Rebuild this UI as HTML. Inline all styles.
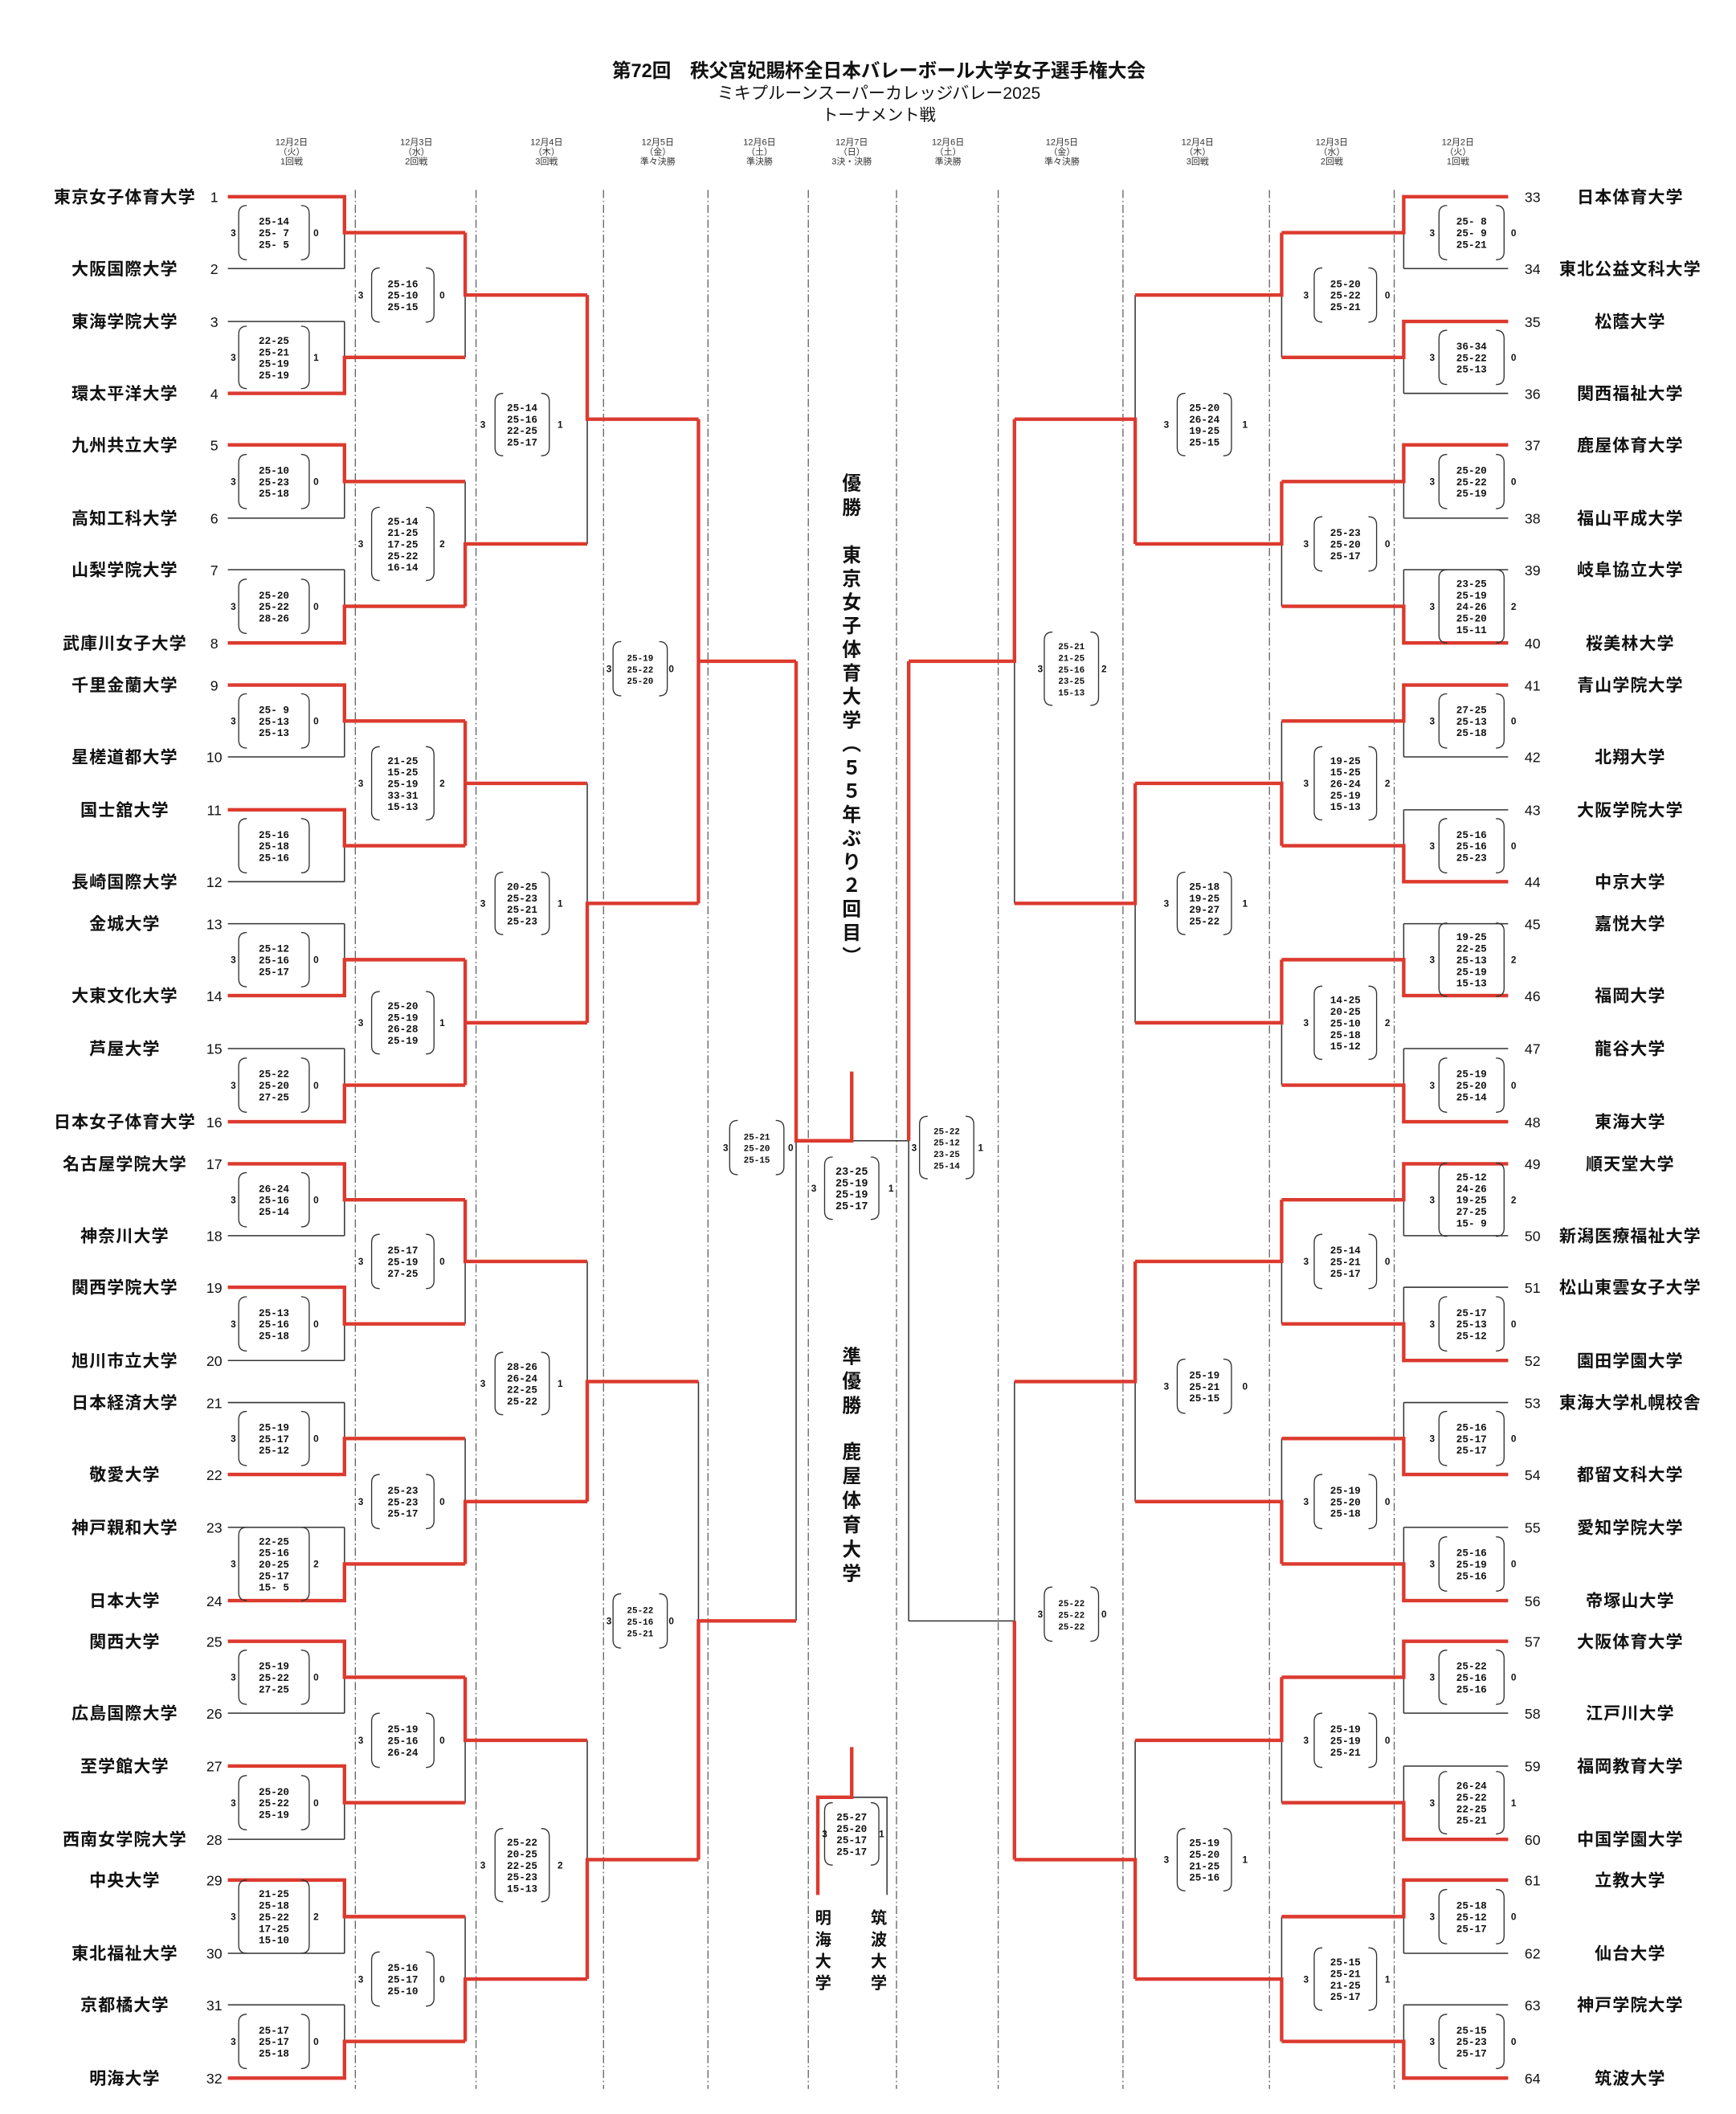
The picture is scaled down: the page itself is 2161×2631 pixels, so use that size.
<!DOCTYPE html>
<html><head><meta charset="utf-8"><style>
html,body{margin:0;padding:0;background:#fff;}
svg{display:block;}
.t{font-family:"Liberation Sans","Noto Sans CJK JP",sans-serif;fill:#111;}
.nm{font-family:"Liberation Sans","Noto Sans CJK JP",sans-serif;font-weight:bold;font-size:12.5px;letter-spacing:0.6px;text-anchor:middle;fill:#111;}
.no{font-family:"Liberation Sans",sans-serif;font-size:10.5px;text-anchor:middle;fill:#111;}
.s{font-family:"Liberation Mono","DejaVu Sans Mono",monospace;font-weight:bold;font-size:7.5px;text-anchor:middle;fill:#111;white-space:pre;}
.n{font-family:"Liberation Sans",sans-serif;font-weight:bold;font-size:7px;text-anchor:middle;fill:#111;}
.h{font-family:"Liberation Sans","Noto Sans CJK JP",sans-serif;font-size:6.5px;text-anchor:middle;fill:#333;}
.v{font-family:"Liberation Sans","Noto Sans CJK JP",sans-serif;font-weight:bold;font-size:14px;text-anchor:middle;fill:#111;}
.v2{font-family:"Liberation Sans","Noto Sans CJK JP",sans-serif;font-weight:bold;font-size:12px;text-anchor:middle;fill:#111;}
.pp{fill:none;stroke:#333;stroke-width:0.8;}
</style></head><body>
<svg width="2161" height="2631" viewBox="0 0 1280 1558.5" preserveAspectRatio="none" xmlns="http://www.w3.org/2000/svg" xmlns:xlink="http://www.w3.org/1999/xlink">
<defs>
<path id="a3" class="pp" d="M-20-20q-6 0-6 6v28q0 6 6 6M20-20q6 0 6 6v28q0 6-6 6"/>
<path id="a4" class="pp" d="M-20-23q-6 0-6 6v34q0 6 6 6M20-23q6 0 6 6v34q0 6-6 6"/>
<path id="a5" class="pp" d="M-20-27q-6 0-6 6v42q0 6 6 6M20-27q6 0 6 6v42q0 6-6 6"/>
<path id="b3" class="pp" d="M-17-20q-6 0-6 6v28q0 6 6 6M17-20q6 0 6 6v28q0 6-6 6"/>
<path id="b4" class="pp" d="M-17-23q-6 0-6 6v34q0 6 6 6M17-23q6 0 6 6v34q0 6-6 6"/>
<path id="b5" class="pp" d="M-17-27q-6 0-6 6v42q0 6 6 6M17-27q6 0 6 6v42q0 6-6 6"/>
<path id="c3" class="pp" d="M-14-20q-6 0-6 6v28q0 6 6 6M14-20q6 0 6 6v28q0 6-6 6"/>
<path id="c4" class="pp" d="M-14-23q-6 0-6 6v34q0 6 6 6M14-23q6 0 6 6v34q0 6-6 6"/>
<path id="c5" class="pp" d="M-14-27q-6 0-6 6v42q0 6 6 6M14-27q6 0 6 6v42q0 6-6 6"/>
<path id="e3" class="pp" d="M-18-20q-6 0-6 6v28q0 6 6 6M18-20q6 0 6 6v28q0 6-6 6"/>
<path id="e4" class="pp" d="M-18-23q-6 0-6 6v34q0 6 6 6M18-23q6 0 6 6v34q0 6-6 6"/>
<path id="e5" class="pp" d="M-18-27q-6 0-6 6v42q0 6 6 6M18-27q6 0 6 6v42q0 6-6 6"/>
</defs>

<!-- Title -->
<text class="t" x="648" y="57" font-size="14" font-weight="bold" text-anchor="middle">第72回　秩父宮妃賜杯全日本バレーボール大学女子選手権大会</text>
<text class="t" x="648" y="73" font-size="12.5" text-anchor="middle">ミキプルーンスーパーカレッジバレー2025</text>
<text class="t" x="648" y="89" font-size="12" text-anchor="middle">トーナメント戦</text>

<!-- Headers -->
<g class="h">
<text x="215" y="107">12月2日</text><text x="215" y="114">（火）</text><text x="215" y="121">1回戦</text>
<text x="307" y="107">12月3日</text><text x="307" y="114">（水）</text><text x="307" y="121">2回戦</text>
<text x="403" y="107">12月4日</text><text x="403" y="114">（木）</text><text x="403" y="121">3回戦</text>
<text x="485" y="107">12月5日</text><text x="485" y="114">（金）</text><text x="485" y="121">準々決勝</text>
<text x="560" y="107">12月6日</text><text x="560" y="114">（土）</text><text x="560" y="121">準決勝</text>
<text x="628" y="107">12月7日</text><text x="628" y="114">（日）</text><text x="628" y="121">3決・決勝</text>
<text x="699" y="107">12月6日</text><text x="699" y="114">（土）</text><text x="699" y="121">準決勝</text>
<text x="783" y="107">12月5日</text><text x="783" y="114">（金）</text><text x="783" y="121">準々決勝</text>
<text x="883" y="107">12月4日</text><text x="883" y="114">（木）</text><text x="883" y="121">3回戦</text>
<text x="982" y="107">12月3日</text><text x="982" y="114">（水）</text><text x="982" y="121">2回戦</text>
<text x="1075" y="107">12月2日</text><text x="1075" y="114">（火）</text><text x="1075" y="121">1回戦</text>
</g>

<!-- dashed column lines -->
<path d="M262 140V1540M351 140V1540M445 140V1540M522 140V1540M596 140V1540M661 140V1540M736 140V1540M828 140V1540M936 140V1540M1028 140V1540" stroke="#666" stroke-width="0.8" stroke-dasharray="6 2 1 2" fill="none"/>

<!-- black base lines -->
<path fill="none" stroke="#333" stroke-width="0.9" d="
M168 145H254M168 198H254M168 237H254M168 290H254M168 328H254M168 382H254M168 420H254M168 474H254
M168 505H254M168 558H254M168 597H254M168 650H254M168 681H254M168 734H254M168 773H254M168 827H254
M168 858H254M168 911H254M168 949H254M168 1003H254M168 1034H254M168 1087H254M168 1126H254M168 1180H254
M168 1210H254M168 1263H254M168 1302H254M168 1356H254M168 1386H254M168 1440H254M168 1478H254M168 1532H254
M254 145V198M254 237V290M254 328V382M254 420V474M254 505V558M254 597V650M254 681V734M254 773V827
M254 858V911M254 949V1003M254 1034V1087M254 1126V1180M254 1210V1263M254 1302V1356M254 1386V1440M254 1478V1532
M343 171.5V263.5M343 355V447M343 531.5V623.5M343 707.5V800M343 884.5V976M343 1060.5V1153M343 1236.5V1329M343 1413V1505
M433 217.5V401M433 577.5V754M433 930V1107M433 1283V1459
M515 309V666M515 1018.5V1371M587 487.5V1195
M1035 145H1112M1035 198H1112M1035 237H1112M1035 290H1112M1035 328H1112M1035 382H1112M1035 420H1112M1035 474H1112
M1035 505H1112M1035 558H1112M1035 597H1112M1035 650H1112M1035 681H1112M1035 734H1112M1035 773H1112M1035 827H1112
M1035 858H1112M1035 911H1112M1035 949H1112M1035 1003H1112M1035 1034H1112M1035 1087H1112M1035 1126H1112M1035 1180H1112
M1035 1210H1112M1035 1263H1112M1035 1302H1112M1035 1356H1112M1035 1386H1112M1035 1440H1112M1035 1478H1112M1035 1532H1112
M1035 145V198M1035 237V290M1035 328V382M1035 420V474M1035 505V558M1035 597V650M1035 681V734M1035 773V827
M1035 858V911M1035 949V1003M1035 1034V1087M1035 1126V1180M1035 1210V1263M1035 1302V1356M1035 1386V1440M1035 1478V1532
M945 171.5V263.5M945 355V447M945 531.5V623.5M945 707.5V800M945 884.5V976M945 1060.5V1153M945 1236.5V1329M945 1413V1505
M837 217.5V401M837 577.5V754M837 930V1107M837 1283V1459
M748 309V666M748 1018.5V1371M670 487.5V1195
M748 1195H670M670 841H628
M628 1325H654V1397
"/>

<!-- red winner lines -->
<path fill="none" stroke="#dc3a2f" stroke-width="2.6" stroke-linejoin="miter" d="
M168 145H254V171.5H343M168 290H254V263.5H343M168 328H254V355H343M168 474H254V447H343
M168 505H254V531.5H343M168 597H254V623.5H343M168 734H254V707.5H343M168 827H254V800H343
M168 858H254V884.5H343M168 949H254V976H343M168 1087H254V1060.5H343M168 1180H254V1153H343
M168 1210H254V1236.5H343M168 1302H254V1329H343M168 1386H254V1413H343M168 1532H254V1505H343
M343 171.5V217.5H433M343 447V401H433M343 531.5V623.5M343 577.5H433M343 707.5V800M343 754H433
M343 884.5V930H433M343 1153V1107H433M343 1236.5V1283H433M343 1505V1459H433
M433 217.5V309H515M433 754V666H515M433 1107V1018.5H515M433 1459V1371H515
M515 309V666M515 487.5H587M515 1371V1195H587
M587 487.5V841H628V790
M1112 145H1035V171.5H945M1112 237H1035V263.5H945M1112 328H1035V355H945M1112 474H1035V447H945
M1112 505H1035V531.5H945M1112 650H1035V623.5H945M1112 734H1035V707.5H945M1112 827H1035V800H945
M1112 858H1035V884.5H945M1112 1003H1035V976H945M1112 1087H1035V1060.5H945M1112 1180H1035V1153H945
M1112 1210H1035V1236.5H945M1112 1356H1035V1329H945M1112 1386H1035V1413H945M1112 1532H1035V1505H945
M945 171.5V217.5H837M945 355V401H837M945 623.5V577.5H837M945 707.5V754H837
M945 884.5V930H837M945 1153V1107H837M945 1236.5V1283H837M945 1505V1459H837
M837 401V309H748M837 577.5V666H748M837 930V1018.5H748M837 1459V1371H748
M748 309V487.5H670M748 1371V1195
M670 487.5V841
M628 1288V1325H603V1397
"/>

<!-- Left names -->
<g class="nm">
<text x="92" y="149.5">東京女子体育大学</text><text x="92" y="202.5">大阪国際大学</text><text x="92" y="241.5">東海学院大学</text><text x="92" y="294.5">環太平洋大学</text>
<text x="92" y="332.5">九州共立大学</text><text x="92" y="386.5">高知工科大学</text><text x="92" y="424.5">山梨学院大学</text><text x="92" y="478.5">武庫川女子大学</text>
<text x="92" y="509.5">千里金蘭大学</text><text x="92" y="562.5">星槎道都大学</text><text x="92" y="601.5">国士舘大学</text><text x="92" y="654.5">長崎国際大学</text>
<text x="92" y="685.5">金城大学</text><text x="92" y="738.5">大東文化大学</text><text x="92" y="777.5">芦屋大学</text><text x="92" y="831.5">日本女子体育大学</text>
<text x="92" y="862.5">名古屋学院大学</text><text x="92" y="915.5">神奈川大学</text><text x="92" y="953.5">関西学院大学</text><text x="92" y="1007.5">旭川市立大学</text>
<text x="92" y="1038.5">日本経済大学</text><text x="92" y="1091.5">敬愛大学</text><text x="92" y="1130.5">神戸親和大学</text><text x="92" y="1184.5">日本大学</text>
<text x="92" y="1214.5">関西大学</text><text x="92" y="1267.5">広島国際大学</text><text x="92" y="1306.5">至学館大学</text><text x="92" y="1360.5">西南女学院大学</text>
<text x="92" y="1390.5">中央大学</text><text x="92" y="1444.5">東北福祉大学</text><text x="92" y="1482.5">京都橘大学</text><text x="92" y="1536.5">明海大学</text>
</g>
<g class="nm">
<text x="1202" y="149.5">日本体育大学</text><text x="1202" y="202.5">東北公益文科大学</text><text x="1202" y="241.5">松蔭大学</text><text x="1202" y="294.5">関西福祉大学</text>
<text x="1202" y="332.5">鹿屋体育大学</text><text x="1202" y="386.5">福山平成大学</text><text x="1202" y="424.5">岐阜協立大学</text><text x="1202" y="478.5">桜美林大学</text>
<text x="1202" y="509.5">青山学院大学</text><text x="1202" y="562.5">北翔大学</text><text x="1202" y="601.5">大阪学院大学</text><text x="1202" y="654.5">中京大学</text>
<text x="1202" y="685.5">嘉悦大学</text><text x="1202" y="738.5">福岡大学</text><text x="1202" y="777.5">龍谷大学</text><text x="1202" y="831.5">東海大学</text>
<text x="1202" y="862.5">順天堂大学</text><text x="1202" y="915.5">新潟医療福祉大学</text><text x="1202" y="953.5">松山東雲女子大学</text><text x="1202" y="1007.5">園田学園大学</text>
<text x="1202" y="1038.5">東海大学札幌校舎</text><text x="1202" y="1091.5">都留文科大学</text><text x="1202" y="1130.5">愛知学院大学</text><text x="1202" y="1184.5">帝塚山大学</text>
<text x="1202" y="1214.5">大阪体育大学</text><text x="1202" y="1267.5">江戸川大学</text><text x="1202" y="1306.5">福岡教育大学</text><text x="1202" y="1360.5">中国学園大学</text>
<text x="1202" y="1390.5">立教大学</text><text x="1202" y="1444.5">仙台大学</text><text x="1202" y="1482.5">神戸学院大学</text><text x="1202" y="1536.5">筑波大学</text>
</g>
<!-- numbers -->
<g class="no">
<text x="158" y="149">1</text><text x="158" y="202">2</text><text x="158" y="241">3</text><text x="158" y="294">4</text><text x="158" y="332">5</text><text x="158" y="386">6</text><text x="158" y="424">7</text><text x="158" y="478">8</text>
<text x="158" y="509">9</text><text x="158" y="562">10</text><text x="158" y="601">11</text><text x="158" y="654">12</text><text x="158" y="685">13</text><text x="158" y="738">14</text><text x="158" y="777">15</text><text x="158" y="831">16</text>
<text x="158" y="862">17</text><text x="158" y="915">18</text><text x="158" y="953">19</text><text x="158" y="1007">20</text><text x="158" y="1038">21</text><text x="158" y="1091">22</text><text x="158" y="1130">23</text><text x="158" y="1184">24</text>
<text x="158" y="1214">25</text><text x="158" y="1267">26</text><text x="158" y="1306">27</text><text x="158" y="1360">28</text><text x="158" y="1390">29</text><text x="158" y="1444">30</text><text x="158" y="1482">31</text><text x="158" y="1536">32</text>
<text x="1130" y="149">33</text><text x="1130" y="202">34</text><text x="1130" y="241">35</text><text x="1130" y="294">36</text><text x="1130" y="332">37</text><text x="1130" y="386">38</text><text x="1130" y="424">39</text><text x="1130" y="478">40</text>
<text x="1130" y="509">41</text><text x="1130" y="562">42</text><text x="1130" y="601">43</text><text x="1130" y="654">44</text><text x="1130" y="685">45</text><text x="1130" y="738">46</text><text x="1130" y="777">47</text><text x="1130" y="831">48</text>
<text x="1130" y="862">49</text><text x="1130" y="915">50</text><text x="1130" y="953">51</text><text x="1130" y="1007">52</text><text x="1130" y="1038">53</text><text x="1130" y="1091">54</text><text x="1130" y="1130">55</text><text x="1130" y="1184">56</text>
<text x="1130" y="1214">57</text><text x="1130" y="1267">58</text><text x="1130" y="1306">59</text><text x="1130" y="1360">60</text><text x="1130" y="1390">61</text><text x="1130" y="1444">62</text><text x="1130" y="1482">63</text><text x="1130" y="1536">64</text>
</g>

<!-- LEFT R1 boxes -->
<g transform="translate(202,171.5)"><use xlink:href="#a3"/><text class="s"><tspan x="0" y="-5.8">25-14</tspan><tspan x="0" dy="8.5">25- 7</tspan><tspan x="0" dy="8.5">25- 5</tspan></text><text class="n" x="-30" y="2.5">3</text><text class="n" x="31" y="2.5">0</text></g>
<g transform="translate(202,263.5)"><use xlink:href="#a4"/><text class="s"><tspan x="0" y="-10">22-25</tspan><tspan x="0" dy="8.5">25-21</tspan><tspan x="0" dy="8.5">25-19</tspan><tspan x="0" dy="8.5">25-19</tspan></text><text class="n" x="-30" y="2.5">3</text><text class="n" x="31" y="2.5">1</text></g>
<g transform="translate(202,355)"><use xlink:href="#a3"/><text class="s"><tspan x="0" y="-5.8">25-10</tspan><tspan x="0" dy="8.5">25-23</tspan><tspan x="0" dy="8.5">25-18</tspan></text><text class="n" x="-30" y="2.5">3</text><text class="n" x="31" y="2.5">0</text></g>
<g transform="translate(202,447)"><use xlink:href="#a3"/><text class="s"><tspan x="0" y="-5.8">25-20</tspan><tspan x="0" dy="8.5">25-22</tspan><tspan x="0" dy="8.5">28-26</tspan></text><text class="n" x="-30" y="2.5">3</text><text class="n" x="31" y="2.5">0</text></g>
<g transform="translate(202,531.5)"><use xlink:href="#a3"/><text class="s"><tspan x="0" y="-5.8">25- 9</tspan><tspan x="0" dy="8.5">25-13</tspan><tspan x="0" dy="8.5">25-13</tspan></text><text class="n" x="-30" y="2.5">3</text><text class="n" x="31" y="2.5">0</text></g>
<g transform="translate(202,623.5)"><use xlink:href="#a3"/><text class="s"><tspan x="0" y="-5.8">25-16</tspan><tspan x="0" dy="8.5">25-18</tspan><tspan x="0" dy="8.5">25-16</tspan></text></g>
<g transform="translate(202,707.5)"><use xlink:href="#a3"/><text class="s"><tspan x="0" y="-5.8">25-12</tspan><tspan x="0" dy="8.5">25-16</tspan><tspan x="0" dy="8.5">25-17</tspan></text><text class="n" x="-30" y="2.5">3</text><text class="n" x="31" y="2.5">0</text></g>
<g transform="translate(202,800)"><use xlink:href="#a3"/><text class="s"><tspan x="0" y="-5.8">25-22</tspan><tspan x="0" dy="8.5">25-20</tspan><tspan x="0" dy="8.5">27-25</tspan></text><text class="n" x="-30" y="2.5">3</text><text class="n" x="31" y="2.5">0</text></g>
<g transform="translate(202,884.5)"><use xlink:href="#a3"/><text class="s"><tspan x="0" y="-5.8">26-24</tspan><tspan x="0" dy="8.5">25-16</tspan><tspan x="0" dy="8.5">25-14</tspan></text><text class="n" x="-30" y="2.5">3</text><text class="n" x="31" y="2.5">0</text></g>
<g transform="translate(202,976)"><use xlink:href="#a3"/><text class="s"><tspan x="0" y="-5.8">25-13</tspan><tspan x="0" dy="8.5">25-16</tspan><tspan x="0" dy="8.5">25-18</tspan></text><text class="n" x="-30" y="2.5">3</text><text class="n" x="31" y="2.5">0</text></g>
<g transform="translate(202,1060.5)"><use xlink:href="#a3"/><text class="s"><tspan x="0" y="-5.8">25-19</tspan><tspan x="0" dy="8.5">25-17</tspan><tspan x="0" dy="8.5">25-12</tspan></text><text class="n" x="-30" y="2.5">3</text><text class="n" x="31" y="2.5">0</text></g>
<g transform="translate(202,1153)"><use xlink:href="#a5"/><text class="s"><tspan x="0" y="-14.3">22-25</tspan><tspan x="0" dy="8.5">25-16</tspan><tspan x="0" dy="8.5">20-25</tspan><tspan x="0" dy="8.5">25-17</tspan><tspan x="0" dy="8.5">15- 5</tspan></text><text class="n" x="-30" y="2.5">3</text><text class="n" x="31" y="2.5">2</text></g>
<g transform="translate(202,1236.5)"><use xlink:href="#a3"/><text class="s"><tspan x="0" y="-5.8">25-19</tspan><tspan x="0" dy="8.5">25-22</tspan><tspan x="0" dy="8.5">27-25</tspan></text><text class="n" x="-30" y="2.5">3</text><text class="n" x="31" y="2.5">0</text></g>
<g transform="translate(202,1329)"><use xlink:href="#a3"/><text class="s"><tspan x="0" y="-5.8">25-20</tspan><tspan x="0" dy="8.5">25-22</tspan><tspan x="0" dy="8.5">25-19</tspan></text><text class="n" x="-30" y="2.5">3</text><text class="n" x="31" y="2.5">0</text></g>
<g transform="translate(202,1413)"><use xlink:href="#a5"/><text class="s"><tspan x="0" y="-14.3">21-25</tspan><tspan x="0" dy="8.5">25-18</tspan><tspan x="0" dy="8.5">25-22</tspan><tspan x="0" dy="8.5">17-25</tspan><tspan x="0" dy="8.5">15-10</tspan></text><text class="n" x="-30" y="2.5">3</text><text class="n" x="31" y="2.5">2</text></g>
<g transform="translate(202,1505)"><use xlink:href="#a3"/><text class="s"><tspan x="0" y="-5.8">25-17</tspan><tspan x="0" dy="8.5">25-17</tspan><tspan x="0" dy="8.5">25-18</tspan></text><text class="n" x="-30" y="2.5">3</text><text class="n" x="31" y="2.5">0</text></g>

<!-- LEFT R2 boxes -->
<g transform="translate(297,217.5)"><use xlink:href="#b3"/><text class="s"><tspan x="0" y="-5.8">25-16</tspan><tspan x="0" dy="8.5">25-10</tspan><tspan x="0" dy="8.5">25-15</tspan></text><text class="n" x="-31" y="2.5">3</text><text class="n" x="29" y="2.5">0</text></g>
<g transform="translate(297,401)"><use xlink:href="#b5"/><text class="s"><tspan x="0" y="-14.3">25-14</tspan><tspan x="0" dy="8.5">21-25</tspan><tspan x="0" dy="8.5">17-25</tspan><tspan x="0" dy="8.5">25-22</tspan><tspan x="0" dy="8.5">16-14</tspan></text><text class="n" x="-31" y="2.5">3</text><text class="n" x="29" y="2.5">2</text></g>
<g transform="translate(297,577.5)"><use xlink:href="#b5"/><text class="s"><tspan x="0" y="-14.3">21-25</tspan><tspan x="0" dy="8.5">15-25</tspan><tspan x="0" dy="8.5">25-19</tspan><tspan x="0" dy="8.5">33-31</tspan><tspan x="0" dy="8.5">15-13</tspan></text><text class="n" x="-31" y="2.5">3</text><text class="n" x="29" y="2.5">2</text></g>
<g transform="translate(297,754)"><use xlink:href="#b4"/><text class="s"><tspan x="0" y="-10">25-20</tspan><tspan x="0" dy="8.5">25-19</tspan><tspan x="0" dy="8.5">26-28</tspan><tspan x="0" dy="8.5">25-19</tspan></text><text class="n" x="-31" y="2.5">3</text><text class="n" x="29" y="2.5">1</text></g>
<g transform="translate(297,930)"><use xlink:href="#b3"/><text class="s"><tspan x="0" y="-5.8">25-17</tspan><tspan x="0" dy="8.5">25-19</tspan><tspan x="0" dy="8.5">27-25</tspan></text><text class="n" x="-31" y="2.5">3</text><text class="n" x="29" y="2.5">0</text></g>
<g transform="translate(297,1107)"><use xlink:href="#b3"/><text class="s"><tspan x="0" y="-5.8">25-23</tspan><tspan x="0" dy="8.5">25-23</tspan><tspan x="0" dy="8.5">25-17</tspan></text><text class="n" x="-31" y="2.5">3</text><text class="n" x="29" y="2.5">0</text></g>
<g transform="translate(297,1283)"><use xlink:href="#b3"/><text class="s"><tspan x="0" y="-5.8">25-19</tspan><tspan x="0" dy="8.5">25-16</tspan><tspan x="0" dy="8.5">26-24</tspan></text><text class="n" x="-31" y="2.5">3</text><text class="n" x="29" y="2.5">0</text></g>
<g transform="translate(297,1459)"><use xlink:href="#b3"/><text class="s"><tspan x="0" y="-5.8">25-16</tspan><tspan x="0" dy="8.5">25-17</tspan><tspan x="0" dy="8.5">25-10</tspan></text><text class="n" x="-31" y="2.5">3</text><text class="n" x="29" y="2.5">0</text></g>

<!-- LEFT R3 -->
<g transform="translate(385,313)"><use xlink:href="#c4"/><text class="s"><tspan x="0" y="-10">25-14</tspan><tspan x="0" dy="8.5">25-16</tspan><tspan x="0" dy="8.5">22-25</tspan><tspan x="0" dy="8.5">25-17</tspan></text><text class="n" x="-29" y="2.5">3</text><text class="n" x="28" y="2.5">1</text></g>
<g transform="translate(385,666)"><use xlink:href="#c4"/><text class="s"><tspan x="0" y="-10">20-25</tspan><tspan x="0" dy="8.5">25-23</tspan><tspan x="0" dy="8.5">25-21</tspan><tspan x="0" dy="8.5">25-23</tspan></text><text class="n" x="-29" y="2.5">3</text><text class="n" x="28" y="2.5">1</text></g>
<g transform="translate(385,1020)"><use xlink:href="#c4"/><text class="s"><tspan x="0" y="-10">28-26</tspan><tspan x="0" dy="8.5">26-24</tspan><tspan x="0" dy="8.5">22-25</tspan><tspan x="0" dy="8.5">25-22</tspan></text><text class="n" x="-29" y="2.5">3</text><text class="n" x="28" y="2.5">1</text></g>
<g transform="translate(385,1375)"><use xlink:href="#c5"/><text class="s"><tspan x="0" y="-14.3">25-22</tspan><tspan x="0" dy="8.5">20-25</tspan><tspan x="0" dy="8.5">22-25</tspan><tspan x="0" dy="8.5">25-23</tspan><tspan x="0" dy="8.5">15-13</tspan></text><text class="n" x="-29" y="2.5">3</text><text class="n" x="28" y="2.5">2</text></g>

<!-- LEFT QF / SF -->
<g transform="translate(472,493)"><use xlink:href="#c3"/><text class="s" style="font-size:6.5px"><tspan x="0" y="-5.8">25-19</tspan><tspan x="0" dy="8.5">25-22</tspan><tspan x="0" dy="8.5">25-20</tspan></text><text class="n" x="-23" y="2.5">3</text><text class="n" x="23" y="2.5">0</text></g>
<g transform="translate(472,1195)"><use xlink:href="#c3"/><text class="s" style="font-size:6.5px"><tspan x="0" y="-5.8">25-22</tspan><tspan x="0" dy="8.5">25-16</tspan><tspan x="0" dy="8.5">25-21</tspan></text><text class="n" x="-23" y="2.5">3</text><text class="n" x="23" y="2.5">0</text></g>
<g transform="translate(558,846)"><use xlink:href="#c3"/><text class="s" style="font-size:6.5px"><tspan x="0" y="-5.8">25-21</tspan><tspan x="0" dy="8.5">25-20</tspan><tspan x="0" dy="8.5">25-15</tspan></text><text class="n" x="-23" y="2.5">3</text><text class="n" x="25" y="2.5">0</text></g>

<!-- FINAL -->
<g transform="translate(628,876)"><use xlink:href="#c4"/><text class="s" style="font-size:8px"><tspan x="0" y="-10">23-25</tspan><tspan x="0" dy="8.5">25-19</tspan><tspan x="0" dy="8.5">25-19</tspan><tspan x="0" dy="8.5">25-17</tspan></text><text class="n" x="-28" y="2.5">3</text><text class="n" x="29" y="2.5">1</text></g>

<!-- RIGHT SF / QF -->
<g transform="translate(698,846)"><use xlink:href="#c4"/><text class="s" style="font-size:6.5px"><tspan x="0" y="-10">25-22</tspan><tspan x="0" dy="8.5">25-12</tspan><tspan x="0" dy="8.5">23-25</tspan><tspan x="0" dy="8.5">25-14</tspan></text><text class="n" x="-24" y="2.5">3</text><text class="n" x="25" y="2.5">1</text></g>
<g transform="translate(790,493)"><use xlink:href="#c5"/><text class="s" style="font-size:6.5px"><tspan x="0" y="-14.3">25-21</tspan><tspan x="0" dy="8.5">21-25</tspan><tspan x="0" dy="8.5">25-16</tspan><tspan x="0" dy="8.5">23-25</tspan><tspan x="0" dy="8.5">15-13</tspan></text><text class="n" x="-23" y="2.5">3</text><text class="n" x="24" y="2.5">2</text></g>
<g transform="translate(790,1190)"><use xlink:href="#c3"/><text class="s" style="font-size:6.5px"><tspan x="0" y="-5.8">25-22</tspan><tspan x="0" dy="8.5">25-22</tspan><tspan x="0" dy="8.5">25-22</tspan></text><text class="n" x="-23" y="2.5">3</text><text class="n" x="24" y="2.5">0</text></g>

<!-- RIGHT R3 -->
<g transform="translate(888,313)"><use xlink:href="#c4"/><text class="s"><tspan x="0" y="-10">25-20</tspan><tspan x="0" dy="8.5">26-24</tspan><tspan x="0" dy="8.5">19-25</tspan><tspan x="0" dy="8.5">25-15</tspan></text><text class="n" x="-28" y="2.5">3</text><text class="n" x="30" y="2.5">1</text></g>
<g transform="translate(888,666)"><use xlink:href="#c4"/><text class="s"><tspan x="0" y="-10">25-18</tspan><tspan x="0" dy="8.5">19-25</tspan><tspan x="0" dy="8.5">29-27</tspan><tspan x="0" dy="8.5">25-22</tspan></text><text class="n" x="-28" y="2.5">3</text><text class="n" x="30" y="2.5">1</text></g>
<g transform="translate(888,1022)"><use xlink:href="#c3"/><text class="s"><tspan x="0" y="-5.8">25-19</tspan><tspan x="0" dy="8.5">25-21</tspan><tspan x="0" dy="8.5">25-15</tspan></text><text class="n" x="-28" y="2.5">3</text><text class="n" x="30" y="2.5">0</text></g>
<g transform="translate(888,1371)"><use xlink:href="#c4"/><text class="s"><tspan x="0" y="-10">25-19</tspan><tspan x="0" dy="8.5">25-20</tspan><tspan x="0" dy="8.5">21-25</tspan><tspan x="0" dy="8.5">25-16</tspan></text><text class="n" x="-28" y="2.5">3</text><text class="n" x="30" y="2.5">1</text></g>

<!-- RIGHT R2 -->
<g transform="translate(992,217.5)"><use xlink:href="#b3"/><text class="s"><tspan x="0" y="-5.8">25-20</tspan><tspan x="0" dy="8.5">25-22</tspan><tspan x="0" dy="8.5">25-21</tspan></text><text class="n" x="-29" y="2.5">3</text><text class="n" x="31" y="2.5">0</text></g>
<g transform="translate(992,401)"><use xlink:href="#b3"/><text class="s"><tspan x="0" y="-5.8">25-23</tspan><tspan x="0" dy="8.5">25-20</tspan><tspan x="0" dy="8.5">25-17</tspan></text><text class="n" x="-29" y="2.5">3</text><text class="n" x="31" y="2.5">0</text></g>
<g transform="translate(992,577.5)"><use xlink:href="#b5"/><text class="s"><tspan x="0" y="-14.3">19-25</tspan><tspan x="0" dy="8.5">15-25</tspan><tspan x="0" dy="8.5">26-24</tspan><tspan x="0" dy="8.5">25-19</tspan><tspan x="0" dy="8.5">15-13</tspan></text><text class="n" x="-29" y="2.5">3</text><text class="n" x="31" y="2.5">2</text></g>
<g transform="translate(992,754)"><use xlink:href="#b5"/><text class="s"><tspan x="0" y="-14.3">14-25</tspan><tspan x="0" dy="8.5">20-25</tspan><tspan x="0" dy="8.5">25-10</tspan><tspan x="0" dy="8.5">25-18</tspan><tspan x="0" dy="8.5">15-12</tspan></text><text class="n" x="-29" y="2.5">3</text><text class="n" x="31" y="2.5">2</text></g>
<g transform="translate(992,930)"><use xlink:href="#b3"/><text class="s"><tspan x="0" y="-5.8">25-14</tspan><tspan x="0" dy="8.5">25-21</tspan><tspan x="0" dy="8.5">25-17</tspan></text><text class="n" x="-29" y="2.5">3</text><text class="n" x="31" y="2.5">0</text></g>
<g transform="translate(992,1107)"><use xlink:href="#b3"/><text class="s"><tspan x="0" y="-5.8">25-19</tspan><tspan x="0" dy="8.5">25-20</tspan><tspan x="0" dy="8.5">25-18</tspan></text><text class="n" x="-29" y="2.5">3</text><text class="n" x="31" y="2.5">0</text></g>
<g transform="translate(992,1283)"><use xlink:href="#b3"/><text class="s"><tspan x="0" y="-5.8">25-19</tspan><tspan x="0" dy="8.5">25-19</tspan><tspan x="0" dy="8.5">25-21</tspan></text><text class="n" x="-29" y="2.5">3</text><text class="n" x="31" y="2.5">0</text></g>
<g transform="translate(992,1459)"><use xlink:href="#b4"/><text class="s"><tspan x="0" y="-10">25-15</tspan><tspan x="0" dy="8.5">25-21</tspan><tspan x="0" dy="8.5">21-25</tspan><tspan x="0" dy="8.5">25-17</tspan></text><text class="n" x="-29" y="2.5">3</text><text class="n" x="31" y="2.5">1</text></g>

<!-- RIGHT R1 -->
<g transform="translate(1085,171.5)"><use xlink:href="#e3"/><text class="s"><tspan x="0" y="-5.8">25- 8</tspan><tspan x="0" dy="8.5">25- 9</tspan><tspan x="0" dy="8.5">25-21</tspan></text><text class="n" x="-29" y="2.5">3</text><text class="n" x="31" y="2.5">0</text></g>
<g transform="translate(1085,263.5)"><use xlink:href="#e3"/><text class="s"><tspan x="0" y="-5.8">36-34</tspan><tspan x="0" dy="8.5">25-22</tspan><tspan x="0" dy="8.5">25-13</tspan></text><text class="n" x="-29" y="2.5">3</text><text class="n" x="31" y="2.5">0</text></g>
<g transform="translate(1085,355)"><use xlink:href="#e3"/><text class="s"><tspan x="0" y="-5.8">25-20</tspan><tspan x="0" dy="8.5">25-22</tspan><tspan x="0" dy="8.5">25-19</tspan></text><text class="n" x="-29" y="2.5">3</text><text class="n" x="31" y="2.5">0</text></g>
<g transform="translate(1085,447)"><use xlink:href="#e5"/><text class="s"><tspan x="0" y="-14.3">23-25</tspan><tspan x="0" dy="8.5">25-19</tspan><tspan x="0" dy="8.5">24-26</tspan><tspan x="0" dy="8.5">25-20</tspan><tspan x="0" dy="8.5">15-11</tspan></text><text class="n" x="-29" y="2.5">3</text><text class="n" x="31" y="2.5">2</text></g>
<g transform="translate(1085,531.5)"><use xlink:href="#e3"/><text class="s"><tspan x="0" y="-5.8">27-25</tspan><tspan x="0" dy="8.5">25-13</tspan><tspan x="0" dy="8.5">25-18</tspan></text><text class="n" x="-29" y="2.5">3</text><text class="n" x="31" y="2.5">0</text></g>
<g transform="translate(1085,623.5)"><use xlink:href="#e3"/><text class="s"><tspan x="0" y="-5.8">25-16</tspan><tspan x="0" dy="8.5">25-16</tspan><tspan x="0" dy="8.5">25-23</tspan></text><text class="n" x="-29" y="2.5">3</text><text class="n" x="31" y="2.5">0</text></g>
<g transform="translate(1085,707.5)"><use xlink:href="#e5"/><text class="s"><tspan x="0" y="-14.3">19-25</tspan><tspan x="0" dy="8.5">22-25</tspan><tspan x="0" dy="8.5">25-13</tspan><tspan x="0" dy="8.5">25-19</tspan><tspan x="0" dy="8.5">15-13</tspan></text><text class="n" x="-29" y="2.5">3</text><text class="n" x="31" y="2.5">2</text></g>
<g transform="translate(1085,800)"><use xlink:href="#e3"/><text class="s"><tspan x="0" y="-5.8">25-19</tspan><tspan x="0" dy="8.5">25-20</tspan><tspan x="0" dy="8.5">25-14</tspan></text><text class="n" x="-29" y="2.5">3</text><text class="n" x="31" y="2.5">0</text></g>
<g transform="translate(1085,884.5)"><use xlink:href="#e5"/><text class="s"><tspan x="0" y="-14.3">25-12</tspan><tspan x="0" dy="8.5">24-26</tspan><tspan x="0" dy="8.5">19-25</tspan><tspan x="0" dy="8.5">27-25</tspan><tspan x="0" dy="8.5">15- 9</tspan></text><text class="n" x="-29" y="2.5">3</text><text class="n" x="31" y="2.5">2</text></g>
<g transform="translate(1085,976)"><use xlink:href="#e3"/><text class="s"><tspan x="0" y="-5.8">25-17</tspan><tspan x="0" dy="8.5">25-13</tspan><tspan x="0" dy="8.5">25-12</tspan></text><text class="n" x="-29" y="2.5">3</text><text class="n" x="31" y="2.5">0</text></g>
<g transform="translate(1085,1060.5)"><use xlink:href="#e3"/><text class="s"><tspan x="0" y="-5.8">25-16</tspan><tspan x="0" dy="8.5">25-17</tspan><tspan x="0" dy="8.5">25-17</tspan></text><text class="n" x="-29" y="2.5">3</text><text class="n" x="31" y="2.5">0</text></g>
<g transform="translate(1085,1153)"><use xlink:href="#e3"/><text class="s"><tspan x="0" y="-5.8">25-16</tspan><tspan x="0" dy="8.5">25-19</tspan><tspan x="0" dy="8.5">25-16</tspan></text><text class="n" x="-29" y="2.5">3</text><text class="n" x="31" y="2.5">0</text></g>
<g transform="translate(1085,1236.5)"><use xlink:href="#e3"/><text class="s"><tspan x="0" y="-5.8">25-22</tspan><tspan x="0" dy="8.5">25-16</tspan><tspan x="0" dy="8.5">25-16</tspan></text><text class="n" x="-29" y="2.5">3</text><text class="n" x="31" y="2.5">0</text></g>
<g transform="translate(1085,1329)"><use xlink:href="#e4"/><text class="s"><tspan x="0" y="-10">26-24</tspan><tspan x="0" dy="8.5">25-22</tspan><tspan x="0" dy="8.5">22-25</tspan><tspan x="0" dy="8.5">25-21</tspan></text><text class="n" x="-29" y="2.5">3</text><text class="n" x="31" y="2.5">1</text></g>
<g transform="translate(1085,1413)"><use xlink:href="#e3"/><text class="s"><tspan x="0" y="-5.8">25-18</tspan><tspan x="0" dy="8.5">25-12</tspan><tspan x="0" dy="8.5">25-17</tspan></text><text class="n" x="-29" y="2.5">3</text><text class="n" x="31" y="2.5">0</text></g>
<g transform="translate(1085,1505)"><use xlink:href="#e3"/><text class="s"><tspan x="0" y="-5.8">25-15</tspan><tspan x="0" dy="8.5">25-23</tspan><tspan x="0" dy="8.5">25-17</tspan></text><text class="n" x="-29" y="2.5">3</text><text class="n" x="31" y="2.5">0</text></g>

<!-- Third place -->
<g transform="translate(628,1352)"><use xlink:href="#c4"/><text class="s"><tspan x="0" y="-10">25-27</tspan><tspan x="0" dy="8.5">25-20</tspan><tspan x="0" dy="8.5">25-17</tspan><tspan x="0" dy="8.5">25-17</tspan></text><text class="n" x="-20" y="2.5">3</text><text class="n" x="22" y="2.5">1</text></g>
<g class="v2">
<text x="607" y="1418">明</text><text x="607" y="1434">海</text><text x="607" y="1450">大</text><text x="607" y="1466">学</text>
<text x="648" y="1418">筑</text><text x="648" y="1434">波</text><text x="648" y="1450">大</text><text x="648" y="1466">学</text>
</g>

<!-- Champion -->
<g class="v">
<text x="628" y="361">優</text><text x="628" y="379">勝</text>
<text x="628" y="414">東</text><text x="628" y="431.4">京</text><text x="628" y="448.8">女</text><text x="628" y="466.2">子</text><text x="628" y="483.6">体</text><text x="628" y="501">育</text><text x="628" y="518.4">大</text><text x="628" y="535.8">学</text><text x="628" y="553.2">︵</text><text x="628" y="570.6">５</text><text x="628" y="588">５</text><text x="628" y="605.4">年</text><text x="628" y="622.8">ぶ</text><text x="628" y="640.2">り</text><text x="628" y="657.6">２</text><text x="628" y="675">回</text><text x="628" y="692.4">目</text><text x="628" y="709.8">︶</text>
</g>
<!-- Runner-up -->
<g class="v">
<text x="628" y="1005">準</text><text x="628" y="1023">優</text><text x="628" y="1041">勝</text>
<text x="628" y="1075">鹿</text><text x="628" y="1093">屋</text><text x="628" y="1111">体</text><text x="628" y="1129">育</text><text x="628" y="1147">大</text><text x="628" y="1165">学</text>
</g>
</svg>
</body></html>
